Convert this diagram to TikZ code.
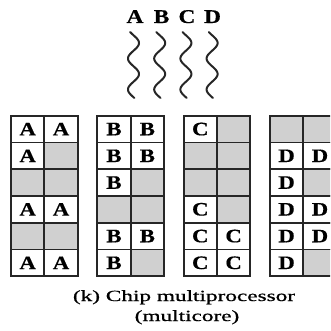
\documentclass[tikz,border=0pt]{standalone}
\usepackage{fontspec}
\setmainfont{Liberation Serif}
\newfontfamily\capfont[FakeBold=0.7]{Liberation Serif}
\newfontfamily\letfont[FakeBold=0.5]{Liberation Serif Bold}
\definecolor{cellgray}{RGB}{208,208,208}
\definecolor{gridline}{RGB}{38,38,38}
\begin{document}
\begin{tikzpicture}[x=1pt,y=-1pt,
  cell/.style={draw=gridline, line width=1.8pt, minimum width=33.35pt,
    minimum height=26.75pt, inner sep=0pt, outer sep=0pt, anchor=north west,
    font=\fontsize{19}{19}\letfont},
  full/.style={cell, fill=white},
  empty/.style={cell, fill=cellgray},
  toplabel/.style={font=\fontsize{19.5}{19.5}\letfont, anchor=base, inner sep=0pt},
  captext/.style={font=\fontsize{15.5}{20}\capfont, anchor=base, inner sep=0pt, xscale=1.5},
  wave/.style={line width=2pt, black!85, line cap=round},
]
\useasboundingbox (0,0) rectangle (330,331);
\clip (0,0) rectangle (330,331);

% thread labels
\node[toplabel] (lA) at (135,23) {\scalebox{1.2}[1]{A}};
\node[toplabel] (lB) at (161.5,23) {\scalebox{1.2}[1]{B}};
\node[toplabel] (lC) at (187,23) {\scalebox{1.2}[1]{C}};
\node[toplabel] (lD) at (212.5,23) {\scalebox{1.2}[1]{D}};

% wavy threads
\foreach \cx in {133.5,159.7,185.9,212.1}{
  \draw[wave] plot[domain=32:98, samples=90, smooth]
    ({\cx+5.5*sin((\x-35.25)*11.6129)}, \x);
}

% grids
\foreach \gi/\gx/\L/\pat in {
  a/11/A/{1/1,1/0,0/0,1/1,0/0,1/1},
  b/97.3/B/{1/1,1/1,1/0,0/0,1/1,1/0},
  c/183.6/C/{1/0,0/0,0/0,1/0,1/1,1/1},
  d/269.9/D/{0/0,1/1,1/0,1/1,1/1,1/0}}{
  \foreach \p/\q [count=\r] in \pat {
    \pgfmathsetmacro\yy{115.7+26.75*(\r-1)}
    \pgfmathsetmacro\xx{\gx+33.35}
    \ifnum\p=1
      \node[full] (\gi\r l) at (\gx,\yy) {\raisebox{-1.5pt}{\scalebox{1.2}[1]{\L}}};
    \else
      \node[empty] (\gi\r l) at (\gx,\yy) {};
    \fi
    \ifnum\q=1
      \node[full] (\gi\r r) at (\xx,\yy) {\raisebox{-1.5pt}{\scalebox{1.2}[1]{\L}}};
    \else
      \node[empty] (\gi\r r) at (\xx,\yy) {};
    \fi
  }
}

% caption
\node[captext] (cap1) at (184,301) {(k) Chip multiprocessor};
\node[captext] (cap2) at (187,321) {(multicore)};
\end{tikzpicture}
\end{document}
